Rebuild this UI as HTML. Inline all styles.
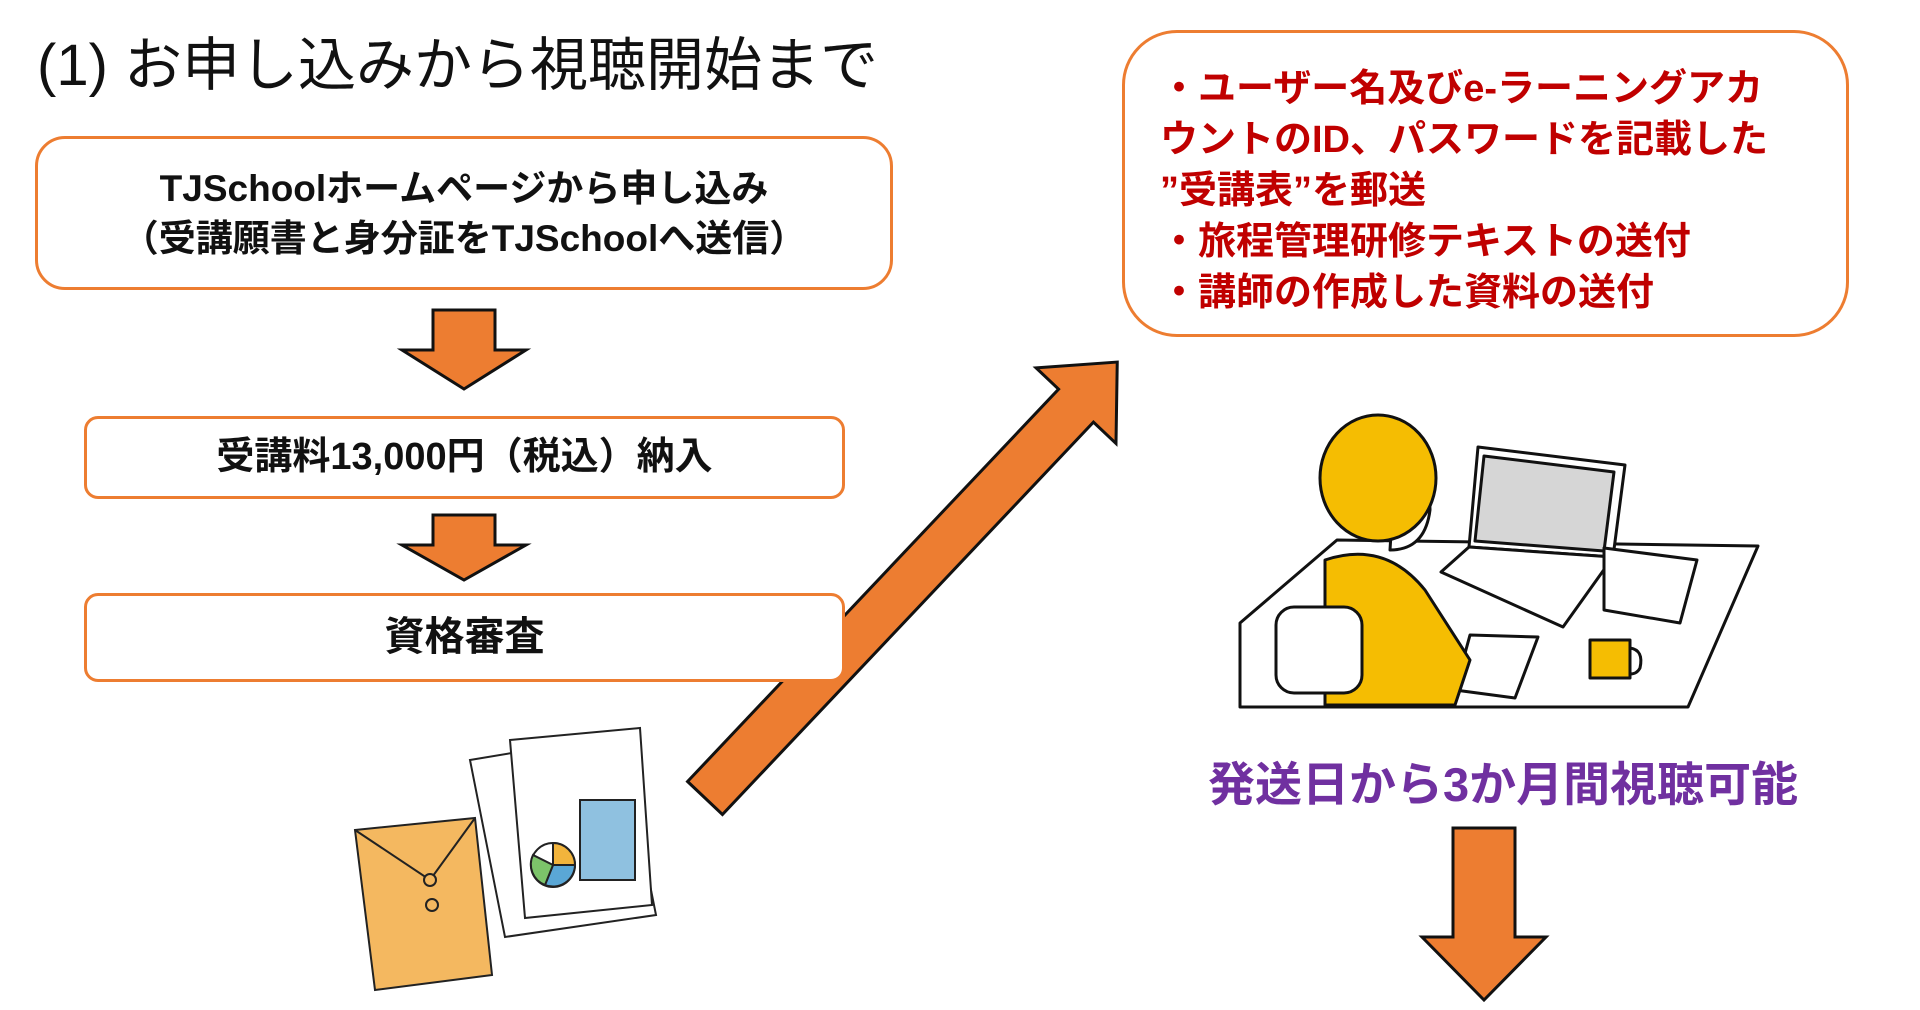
<!DOCTYPE html>
<html><head><meta charset="utf-8"><style>
html,body{margin:0;padding:0;background:#fff;}
body{width:1920px;height:1010px;position:relative;overflow:hidden;font-family:"Liberation Sans","Noto Sans CJK JP",sans-serif;}
.t{position:absolute;white-space:nowrap;}
.box{position:absolute;border:3px solid #ED7D31;background:#fff;box-sizing:border-box;}
.c{text-align:center;font-weight:bold;color:#111;}
</style></head><body>
<svg width="1920" height="1010" style="position:absolute;left:0;top:0">
<polygon points="433,310 495,310 495,350 526,350 464,389 402,350 433,350" fill="#ED7D31" stroke="#111" stroke-width="3"/>
<polygon points="433,515 495,515 495,545 526,545 464,580 402,545 433,545" fill="#ED7D31" stroke="#111" stroke-width="3"/>
<polygon points="1453,828 1515,828 1515,937 1546,937 1484,1000 1422,937 1453,937" fill="#ED7D31" stroke="#111" stroke-width="3"/>
<g transform="translate(705,798) rotate(-46.6)">
<polygon points="0,-24 540,-24 540,-55 600,0 540,55 540,24 0,24" fill="#ED7D31" stroke="#111" stroke-width="3"/>
</g>
<g stroke="#222" stroke-width="2">
<polygon points="470,760 620,735 656,915 505,937" fill="#fff"/>
<polygon points="510,740 640,728 652,905 525,918" fill="#fff"/>
<rect x="580" y="800" width="55" height="80" fill="#8fc1e0"/>
<circle cx="553" cy="865" r="22" fill="#fff"/>
<path d="M553,865 L553,843 A22,22 0 0 1 575,865Z" fill="#f2b43c"/>
<path d="M553,865 L575,865 A22,22 0 0 1 545,885Z" fill="#5aa7d6"/>
<path d="M553,865 L545,885 A22,22 0 0 1 533,855Z" fill="#7cc46a"/>
<polygon points="355,830 475,818 492,975 375,990" fill="#F4B860"/>
<polyline points="355,830 430,880 475,818" fill="none"/>
<circle cx="430" cy="880" r="6" fill="#F4B860"/>
<circle cx="432" cy="905" r="6" fill="#F4B860"/>
</g>
<g stroke="#111" stroke-width="3" stroke-linejoin="round">
<polygon points="1240,623 1337,540 1758,546 1688,707 1240,707" fill="#fff"/>
<polygon points="1478,447 1625,465 1613,557 1469,547" fill="#fff"/>
<polygon points="1484,456 1614,472 1604,551 1475,541" fill="#d6d6d6"/>
<polygon points="1469,547 1613,557 1563,627 1441,572" fill="#fff"/>
<polygon points="1604,548 1697,560 1680,623 1604,610" fill="#fff"/>
<path d="M1590,640 h40 v38 h-40z" fill="#F5BD02"/>
<path d="M1630,648 q14,2 10,20 q-3,6 -10,6" fill="none"/>
<polygon points="1470,635 1538,637 1515,698 1455,690" fill="#fff"/>
<path d="M1395,470 q35,0 35,40 q-5,40 -40,40 z" fill="#fff"/>
<ellipse cx="1378" cy="478" rx="58" ry="63" fill="#F5BD02"/>
<path d="M1325,560 q60,-20 100,30 l45,70 l-15,45 l-130,0 z" fill="#F5BD02"/>
<rect x="1276" y="607" width="86" height="86" rx="18" fill="#fff"/>
</g>
</svg>
<div class="t" style="left:37px;top:18px;font-size:58px;color:#111;">(1) お申し込みから視聴開始まで</div>
<div class="box c" style="left:35px;top:136px;width:858px;height:154px;border-radius:30px;font-size:37px;line-height:50px;padding-top:25px;">TJSchoolホームページから申し込み<br>（受講願書と身分証をTJSchoolへ送信）</div>
<div class="box c" style="left:84px;top:416px;width:761px;height:83px;border-radius:14px;font-size:38px;line-height:77px;">受講料13,000円（税込）納入</div>
<div class="box c" style="left:84px;top:593px;width:761px;height:89px;border-radius:14px;font-size:40px;line-height:83px;">資格審査</div>
<div class="box" style="left:1122px;top:30px;width:727px;height:307px;border-radius:55px;"></div>
<div class="t" style="left:1160px;top:64px;font-size:38px;line-height:51px;font-weight:bold;color:#C00000;">・ユーザー名及びe-ラーニングアカ<br>ウントのID、パスワードを記載した<br>”受講表”を郵送<br>・旅程管理研修テキストの送付<br>・講師の作成した資料の送付</div>
<div class="t" style="left:1208px;top:746px;font-size:47px;font-weight:bold;color:#7030A0;">発送日から3か月間視聴可能</div>
</body></html>
